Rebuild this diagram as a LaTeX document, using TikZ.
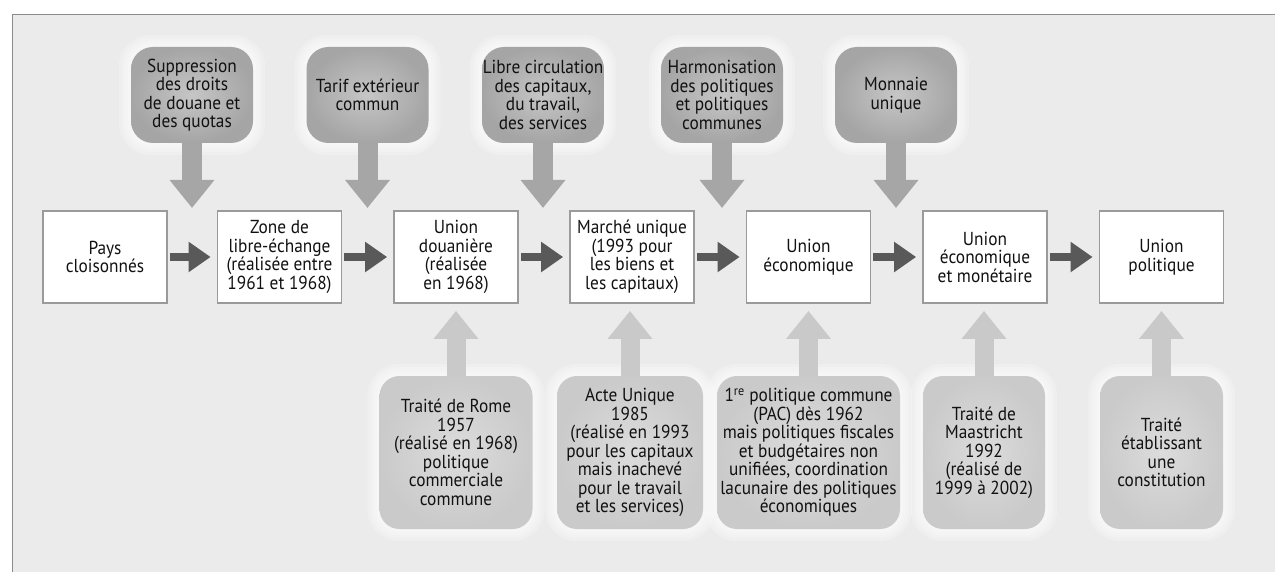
\documentclass[tikz,border=0pt]{standalone}
\usepackage{fontspec}
\setmainfont{PT Sans}[FakeStretch=0.92]
\usetikzlibrary{arrows.meta,calc}
\definecolor{bgcol}{HTML}{EBEBEB}
\definecolor{framecol}{HTML}{8C8C8C}
\definecolor{boxborder}{HTML}{9A9A9A}
\definecolor{mainarrowcol}{HTML}{595959}
\definecolor{toparrowcol}{HTML}{A6A6A6}
\definecolor{botarrowcol}{HTML}{C9C9C9}
\definecolor{topin}{HTML}{C6C6C6}
\definecolor{topout}{HTML}{A5A5A5}
\definecolor{botin}{HTML}{DCDCDC}
\definecolor{botout}{HTML}{CACACA}
\definecolor{txt}{HTML}{111111}
\pgfdeclarelayer{back}
\pgfdeclarelayer{glow}
\pgfsetlayers{back,glow,main}
\tikzset{
  txtfont/.style={font=\fontsize{18.8}{18.5}\selectfont, text=txt, align=center, inner sep=0pt},
  mainbox/.style={txtfont, draw=boxborder, line width=1.8pt, fill=white,
    minimum width=124pt, minimum height=92pt},
  topbox/.style={txtfont, rounded corners=22pt, inner color=topin, outer color=topout,
    minimum width=122pt, minimum height=96pt},
  botbox/.style={txtfont, rounded corners=20pt, inner color=botin, outer color=botout,
    minimum height=153pt},
  glowring/.style={fill=white, opacity=0.2},
  mainarrow/.style={draw=mainarrowcol, line width=8pt,
    -{Triangle[width=29pt,length=22pt]}, shorten <=2pt, shorten >=6pt},
  toparrow/.style={draw=toparrowcol, line width=20pt,
    -{Triangle[width=43pt,length=28pt]}},
  botarrow/.style={draw=botarrowcol, line width=19pt,
    -{Triangle[width=43pt,length=28pt]}, shorten >=7pt},
}
\begin{document}
\begin{tikzpicture}[x=1pt,y=-1pt]
\useasboundingbox (0,0) rectangle (1275,572);
\begin{pgfonlayer}{back}
\fill[white] (0,0) rectangle (1275,572);
\fill[bgcol] (12,15) rectangle (1275,572);
\draw[framecol, line width=1pt] (12,572) -- (12,15) -- (1275,15);
\end{pgfonlayer}

% main row
\node[mainbox] (m1) at (105,257) {Pays\\cloisonnés};
\node[mainbox] (m2) at (279.5,257) {Zone de\\libre-échange\\(réalisée entre\\1961 et 1968)};
\node[mainbox] (m3) at (456,257) {Union\\douanière\\(réalisée\\en 1968)};
\node[mainbox] (m4) at (632,257) {Marché unique\\(1993 pour\\les biens et\\les capitaux)};
\node[mainbox] (m5) at (808.5,257) {Union\\économique};
\node[mainbox] (m6) at (985,257) {Union\\économique\\et monétaire};
\node[mainbox] (m7) at (1161.5,257) {Union\\politique};

\foreach \a/\b in {m1/m2,m2/m3,m3/m4,m4/m5,m5/m6,m6/m7}
  \draw[mainarrow] (\a) -- (\b);

% top boxes
\node[topbox] (t1) at (192,95) {Suppression\\des droits\\de douane et\\des quotas};
\node[topbox] (t2) at (367.5,95) {Tarif extérieur\\commun};
\node[topbox] (t3) at (543,95) {Libre circulation\\des capitaux,\\du travail,\\des services};
\node[topbox] (t4) at (722,95) {Harmonisation\\des politiques\\et politiques\\communes};
\node[topbox] (t5) at (896,95) {Monnaie\\unique};

\coordinate (g1) at (192,208);
\coordinate (g2) at (367.5,208);
\coordinate (g3) at (543,208);
\coordinate (g4) at (722,208);
\coordinate (g5) at (896,208);
\foreach \i in {1,...,5}
  \draw[toparrow] (t\i.south) -- (g\i);

% bottom boxes
\node[botbox, minimum width=153pt] (b3) at (456,452.5) {Traité de Rome\\1957\\(réalisé en 1968)\\politique\\commerciale\\commune};
\node[botbox, minimum width=146pt] (b4) at (630,452.5) {Acte Unique\\1985\\(réalisé en 1993\\pour les capitaux\\mais inachevé\\pour le travail\\et les services)};
\node[botbox, minimum width=183pt] (b5) at (808.5,452.5) {1\textsuperscript{re} politique commune\\(PAC) dès 1962\\mais politiques fiscales\\et budgétaires non\\unifiées, coordination\\lacunaire des politiques\\économiques};
\node[botbox, minimum width=122pt] (b6) at (984,452.5) {Traité de\\Maastricht\\1992\\(réalisé de\\1999 à 2002)};
\node[botbox, minimum width=123pt] (b7) at (1161.5,452.5) {Traité\\établissant\\une\\constitution};

\foreach \i in {3,...,7}
  \draw[botarrow] (b\i.north) -- (b\i.north |- m\i.south);

% soft light halo around the rounded boxes
\begin{pgfonlayer}{glow}
\foreach \n in {t1,t2,t3,t4,t5,b3,b4,b5,b6,b7}
  \foreach \k in {3,6,9,12}
    \fill[glowring, rounded corners=20pt+\k pt]
      ($(\n.south west)+(-\k,\k)$) rectangle ($(\n.north east)+(\k,-\k)$);
\end{pgfonlayer}
\end{tikzpicture}
\end{document}
